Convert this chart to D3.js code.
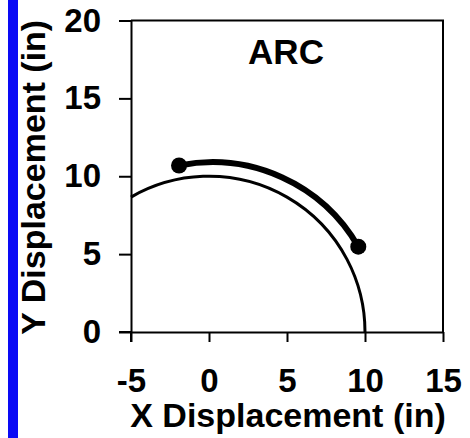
<!DOCTYPE html>
<html>
<head>
<meta charset="utf-8">
<script src="https://cdn.jsdelivr.net/npm/d3@7"></script>
<style>
  html, body { margin: 0; padding: 0; background: #fff; }
  svg { display: block; }
</style>
</head>
<body>
<svg id="chart" width="470" height="438"></svg>
<script>
// Axis ticks (inches)
const xTicks = [-5, 0, 5, 10, 15];
const yTicks = [0, 5, 10, 15, 20];

// Reach circle of the arm: start point, end point, radius
const reachStart = [-5, 8.66];
const reachEnd = [10, 0];
const reachRadius = [10];

// Traced arc: start point, end point, radius
const traceStart = [-1.92, 10.69];
const traceEnd = [9.57, 5.48];
const traceRadius = [10.8];

const chartTitle = "ARC";
const xLabel = "X Displacement (in)";
const yLabel = "Y Displacement (in)";

const W = 470, H = 438;
const margin = { top: 20.5, right: 27, bottom: 106, left: 131 };
const FONT = "'Liberation Sans', Arial, Helvetica, sans-serif";

const svg = d3.select("#chart");

const x = d3.scaleLinear().domain([-5, 15]).range([margin.left, W - margin.right]);
const y = d3.scaleLinear().domain([0, 20]).range([H - margin.bottom, margin.top]);

// Frame: top and right edges
svg.append("path")
  .attr("d", `M${x(-5)},${y(20)}H${x(15)}V${y(0)}`)
  .attr("fill", "none").attr("stroke", "#000").attr("stroke-width", 2);

// Axes (plain hyphen for negative labels)
const fmt = d => String(d);
const xAxis = svg.append("g")
  .attr("transform", `translate(0,${y(0)})`)
  .call(d3.axisBottom(x).tickValues(xTicks).tickFormat(fmt)
    .tickSize(10).tickSizeOuter(0).tickPadding(27));
const yAxis = svg.append("g")
  .attr("transform", `translate(${x(-5)},0)`)
  .call(d3.axisLeft(y).tickValues(yTicks).tickFormat(fmt)
    .tickSize(12).tickSizeOuter(0).tickPadding(18));

[xAxis, yAxis].forEach(g => {
  g.select(".domain").attr("stroke", "#000").attr("stroke-width", 2);
  g.selectAll(".tick line").attr("stroke", "#000").attr("stroke-width", 2);
  g.selectAll(".tick text")
    .attr("fill", "#000")
    .style("font-family", FONT)
    .style("font-size", "33px")
    .style("font-weight", "bold");
});
// Extend the left domain below the baseline as the -5 tick
svg.append("line")
  .attr("x1", x(-5)).attr("x2", x(-5))
  .attr("y1", y(0)).attr("y2", y(0) + 10)
  .attr("stroke", "#000").attr("stroke-width", 2);
// Extend the bottom domain left as the 0 tick
svg.append("line")
  .attr("x1", x(-5) - 12).attr("x2", x(-5))
  .attr("y1", y(0)).attr("y2", y(0))
  .attr("stroke", "#000").attr("stroke-width", 2);

// Circular arc between two data points with given radius
function arcPath(p0, p1, r) {
  const rx = x(r) - x(0);
  const ry = y(0) - y(r);
  return `M${x(p0[0])},${y(p0[1])}A${rx},${ry} 0 0 1 ${x(p1[0])},${y(p1[1])}`;
}

// Reach circle
svg.append("path")
  .attr("d", arcPath(reachStart, reachEnd, reachRadius[0]))
  .attr("fill", "none").attr("stroke", "#000").attr("stroke-width", 3);

// Traced arc
svg.append("path")
  .attr("d", arcPath(traceStart, traceEnd, traceRadius[0]))
  .attr("fill", "none").attr("stroke", "#000").attr("stroke-width", 6)
  .attr("stroke-linecap", "round");

svg.selectAll("circle.endpoint")
  .data([traceStart, traceEnd])
  .join("circle")
  .attr("class", "endpoint")
  .attr("cx", d => x(d[0])).attr("cy", d => y(d[1]))
  .attr("r", 8).attr("fill", "#000");

// Title inside the plot
svg.append("text")
  .attr("x", x(5) - 1).attr("y", 64)
  .attr("text-anchor", "middle")
  .style("font-family", FONT).style("font-size", "35px").style("font-weight", "bold")
  .text(chartTitle);

// Axis titles
svg.append("text")
  .attr("x", (x(-5) + x(15)) / 2 + 1).attr("y", 427)
  .attr("text-anchor", "middle")
  .style("font-family", FONT).style("font-size", "34px").style("font-weight", "bold")
  .text(xLabel);

svg.append("text")
  .attr("transform", `translate(45,${(y(0) + y(20)) / 2 + 1}) rotate(-90)`)
  .attr("text-anchor", "middle")
  .style("font-family", FONT).style("font-size", "34px").style("font-weight", "bold")
  .text(yLabel);

// Blue edge strip, above the title's left edge
svg.append("rect")
  .attr("x", 8).attr("y", 0).attr("width", 10).attr("height", H)
  .attr("fill", "#0a0af5");
</script>
</body>
</html>
